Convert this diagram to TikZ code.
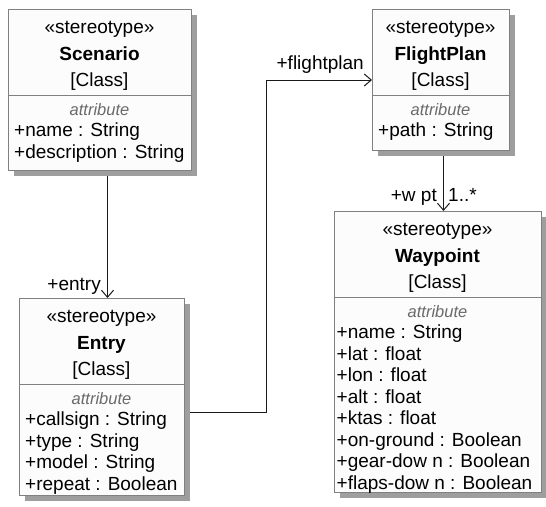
\documentclass[tikz,border=0pt]{standalone}
\usepackage{fontspec}
\setmainfont{Liberation Sans}
\usetikzlibrary{arrows.meta,shadows,backgrounds}

\definecolor{boxline}{HTML}{808080}
\definecolor{boxfill}{HTML}{FCFCFC}
\definecolor{shadowgray}{HTML}{9E9E9E}
\definecolor{attrgray}{HTML}{6A6A6A}
\definecolor{wire}{HTML}{1A1A1A}

\begin{document}
\begin{tikzpicture}[x=1pt,y=-1pt,
  classbox/.style={rectangle, draw=boxline, fill=boxfill, line width=1pt,
    inner sep=0pt, anchor=north west,
    drop shadow={shadow xshift=5pt, shadow yshift=-5pt, fill=shadowgray, opacity=1}},
  sepline/.style={draw=boxline, line width=1pt},
  txt/.style={inner sep=0pt, font=\fontsize{19}{21}\selectfont, text=black},
  head/.style={txt, anchor=base},
  title/.style={txt, anchor=base, font=\fontsize{19}{21}\selectfont\bfseries},
  attrhead/.style={inner sep=0pt, anchor=base, text=attrgray,
    font=\fontsize{16.5}{18}\selectfont\itshape},
  member/.style={txt, anchor=base west},
  assoc/.style={draw=wire, line width=1pt,
    -{Straight Barb[length=7pt, width=12pt, line width=1pt]}},
]
\useasboundingbox (0,0) rectangle (546,506);

% ---------- Scenario ----------
\node[classbox, minimum width=183pt, minimum height=161pt] (scenario) at (8,9) {};
\draw[sepline] ([yshift=-86pt]scenario.north west) -- ([yshift=-86pt]scenario.north east);
\node[head]  (scenario-st) at (99.5,33) {«stereotype»};
\node[title] (scenario-nm) at (99.5,60) {Scenario};
\node[head]  (scenario-kd) at (99.5,86) {[Class]};
\node[attrhead] (scenario-at) at (99.5,115) {attribute};
\node[member] (scenario-a1) at (14,136.5) {+name : String};
\node[member] (scenario-a2) at (14,158) {+description : String};

% ---------- FlightPlan ----------
\node[classbox, minimum width=137pt, minimum height=141pt] (flightplan) at (372,9) {};
\draw[sepline] ([yshift=-86pt]flightplan.north west) -- ([yshift=-86pt]flightplan.north east);
\node[head]  (flightplan-st) at (440.5,33) {«stereotype»};
\node[title] (flightplan-nm) at (440.5,60) {FlightPlan};
\node[head]  (flightplan-kd) at (440.5,86) {[Class]};
\node[attrhead] (flightplan-at) at (440.5,115) {attribute};
\node[member] (flightplan-a1) at (378,136.5) {+path : String};

% ---------- Entry ----------
\node[classbox, minimum width=165pt, minimum height=197pt] (entry) at (19,298) {};
\draw[sepline] ([yshift=-86pt]entry.north west) -- ([yshift=-86pt]entry.north east);
\node[head]  (entry-st) at (101.5,322) {«stereotype»};
\node[title] (entry-nm) at (101.5,349) {Entry};
\node[head]  (entry-kd) at (101.5,375) {[Class]};
\node[attrhead] (entry-at) at (101.5,404) {attribute};
\node[member] (entry-a1) at (25,425.5) {+callsign : String};
\node[member] (entry-a2) at (25,447) {+type : String};
\node[member] (entry-a3) at (25,468.5) {+model : String};
\node[member] (entry-a4) at (25,490) {+repeat : Boolean};

% ---------- Waypoint ----------
\node[classbox, minimum width=207pt, minimum height=281pt] (waypoint) at (334,211) {};
\draw[sepline] ([yshift=-86pt]waypoint.north west) -- ([yshift=-86pt]waypoint.north east);
\node[head]  (waypoint-st) at (437.5,235) {«stereotype»};
\node[title] (waypoint-nm) at (437.5,262) {Waypoint};
\node[head]  (waypoint-kd) at (437.5,288) {[Class]};
\node[attrhead] (waypoint-at) at (437.5,317) {attribute};
\node[member] (waypoint-a1) at (336.5,338.5) {+name : String};
\node[member] (waypoint-a2) at (336.5,360) {+lat : float};
\node[member] (waypoint-a3) at (336.5,381.5) {+lon : float};
\node[member] (waypoint-a4) at (336.5,403) {+alt : float};
\node[member] (waypoint-a5) at (336.5,424.5) {+ktas : float};
\node[member] (waypoint-a6) at (336.5,446) {+on-ground : Boolean};
\node[member] (waypoint-a7) at (336.5,467.5) {+gear-dow n : Boolean};
\node[member] (waypoint-a8) at (336.5,489) {+flaps-dow n : Boolean};

% ---------- associations ----------
\coordinate (fpbend) at (266,412);
\begin{pgfonlayer}{background}
  \draw[assoc] ([xshift=7.5pt]scenario.south) -- ([xshift=7.5pt]scenario.south |- entry.north);
  \draw[assoc] (entry.east |- fpbend) -- (fpbend) |- (flightplan.west);
  \draw[assoc] ([xshift=2.5pt]flightplan.south) -- ([xshift=2.5pt]flightplan.south |- waypoint.north);
\end{pgfonlayer}

% ---------- role and multiplicity labels ----------
\node[txt, anchor=base east] (role-entry) at (101,290) {+entry};
\node[txt, anchor=base east] (role-flightplan) at (364,69) {+flightplan};
\node[txt, anchor=base east] (role-wpt) at (437,201) {+w pt};
\node[txt, anchor=base west] (mult-wpt) at (448,201) {1..*};
\end{tikzpicture}
\end{document}
